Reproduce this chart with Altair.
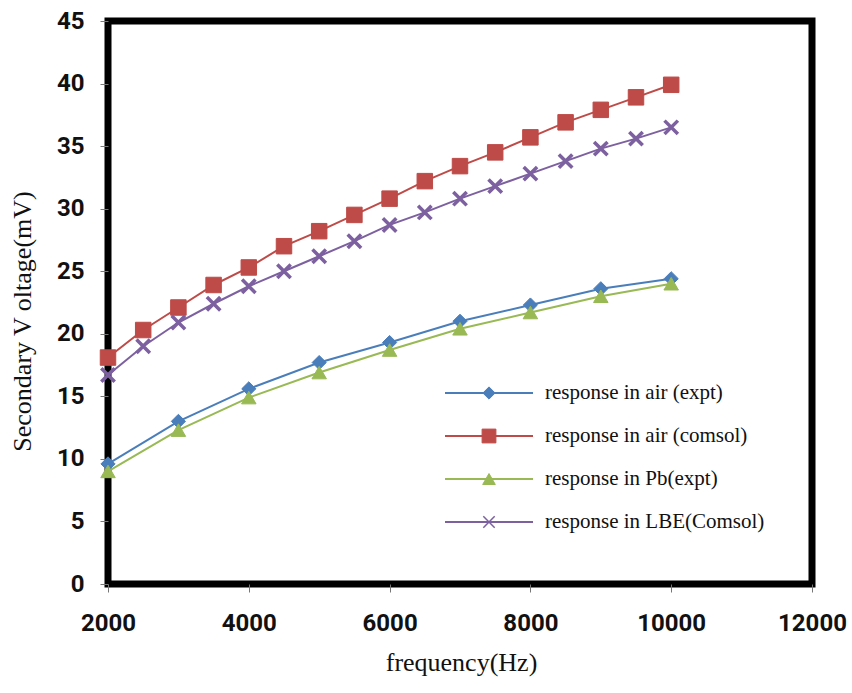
import altair as alt
import pandas as pd

# ---- data ----
freq_half = [2000, 2500, 3000, 3500, 4000, 4500, 5000, 5500, 6000,
             6500, 7000, 7500, 8000, 8500, 9000, 9500, 10000]
freq_full = [2000, 3000, 4000, 5000, 6000, 7000, 8000, 9000, 10000]

air_expt = [9.6, 13.0, 15.6, 17.7, 19.3, 21.0, 22.3, 23.6, 24.4]
air_comsol = [18.1, 20.3, 22.1, 23.9, 25.3, 27.0, 28.2, 29.5, 30.8,
              32.2, 33.4, 34.5, 35.7, 36.9, 37.9, 38.9, 39.9]
pb_expt = [9.0, 12.3, 14.9, 16.9, 18.7, 20.4, 21.7, 23.0, 24.0]
lbe_comsol = [16.7, 19.0, 20.9, 22.4, 23.8, 25.0, 26.2, 27.4, 28.7,
              29.7, 30.8, 31.8, 32.8, 33.8, 34.8, 35.6, 36.5]

series_names = ["response in air (expt)", "response in air (comsol)",
                "response in Pb(expt)", "response in LBE(Comsol)"]
x_ticks = [2000, 4000, 6000, 8000, 10000, 12000]
y_ticks = [0, 5, 10, 15, 20, 25, 30, 35, 40, 45]

# ---- styles ----
colors = ["#4A7EBB", "#BE4B48", "#98B954", "#7D60A0"]
X_PATH = "M-1,-1L1,1M-1,1L1,-1"
plot_shapes = ["diamond", "square", "triangle-up", X_PATH]
plot_filled = [True, True, True, False]
plot_sizes = [200, 240, 210, 180]
legend_sizes = [150, 190, 160, 130]

rows = []
for name, xs, ys in [
    (series_names[0], freq_full, air_expt),
    (series_names[1], freq_half, air_comsol),
    (series_names[2], freq_full, pb_expt),
    (series_names[3], freq_half, lbe_comsol),
]:
    for f, v in zip(xs, ys):
        rows.append({"series": name, "freq": f, "volt": v})
df = pd.DataFrame(rows)
legend_df = pd.DataFrame({"series": series_names})

TICK_FONT = "Liberation Sans Narrow, Arial Narrow, Roboto, sans-serif"
SERIF = "Liberation Serif, Times New Roman, serif"

color_scale = alt.Scale(domain=series_names, range=colors)

x_enc = alt.X(
    "freq:Q",
    scale=alt.Scale(domain=[2000, 12000], nice=False, zero=False),
    axis=alt.Axis(
        values=x_ticks, title="frequency(Hz)", format="d", grid=False,
        domain=False, tickColor="#777", tickSize=8, tickWidth=1,
        labelFont=TICK_FONT, labelFontSize=24, labelFontWeight="bold",
        labelColor="#111", labelPadding=19,
        titleFont=SERIF, titleFontSize=26, titleFontWeight="normal",
        titleColor="#111", titleX=353, titleY=78, titleBaseline="middle",
        titleAlign="center", labelFlush=False, labelOverlap=False,
    ),
)
y_enc = alt.Y(
    "volt:Q",
    scale=alt.Scale(domain=[0, 45], nice=False),
    axis=alt.Axis(
        values=y_ticks, title="Secondary V oltage(mV)", grid=False,
        domain=False, tickColor="#777", tickSize=8, tickWidth=1,
        labelFont=TICK_FONT, labelFontSize=24, labelFontWeight="bold",
        labelColor="#111", labelPadding=16,
        titleFont=SERIF, titleFontSize=26, titleFontWeight="normal",
        titleColor="#111", titleX=-86, titleY=300, titleAngle=-90,
        titleBaseline="middle", titleAlign="center", labelFlush=False,
        labelOverlap=False,
    ),
)

base = alt.Chart(df)

lines = base.mark_line(strokeWidth=2).encode(
    x=x_enc, y=y_enc,
    color=alt.Color("series:N", scale=color_scale, legend=None),
    detail="series:N",
)


def marker_kw(i, size, cross_width):
    kw = dict(shape=plot_shapes[i], size=size, opacity=1)
    if plot_filled[i]:
        kw.update(filled=True, fill=colors[i], stroke=colors[i], strokeWidth=1)
    else:
        kw.update(filled=False, stroke=colors[i], strokeWidth=cross_width)
    return kw


point_layers = []
for i, name in enumerate(series_names):
    point_layers.append(
        base.transform_filter(alt.datum.series == name)
        .mark_point(**marker_kw(i, plot_sizes[i], 3.5))
        .encode(x="freq:Q", y="volt:Q")
    )

data_layer = alt.layer(lines, *point_layers)

# ---- legend (inside the plot, lower right) ----
leg_base = alt.Chart(legend_df)
leg_y = alt.Y("series:N", scale=alt.Scale(type="point", domain=series_names,
                                           range=[372, 501], padding=0),
              axis=None)

leg_rule = leg_base.mark_rule(strokeWidth=2).encode(
    x=alt.value(337), x2=alt.value(425), y=leg_y,
    color=alt.Color("series:N", scale=color_scale, legend=None),
)
leg_marks = []
for i, name in enumerate(series_names):
    leg_marks.append(
        leg_base.transform_filter(alt.datum.series == name)
        .mark_point(**marker_kw(i, legend_sizes[i], 1.5))
        .encode(x=alt.value(381), y=leg_y)
    )
leg_text = leg_base.mark_text(
    align="left", baseline="middle", font=SERIF, fontSize=21, color="#111",
).encode(x=alt.value(437), y=leg_y, text="series:N")

legend_layer = alt.layer(leg_rule, *leg_marks, leg_text)

chart = (
    alt.layer(data_layer, legend_layer)
    .resolve_scale(y="independent")
    .properties(width=704, height=563, autosize=alt.AutoSizeParams(type="none"),
                padding={"left": 108, "top": 21, "right": 40, "bottom": 109},
                background="white")
    .configure_view(stroke="black", strokeWidth=7, fill="white")
)

chart.save("out.html", embed_options={"renderer": "svg", "actions": False})
